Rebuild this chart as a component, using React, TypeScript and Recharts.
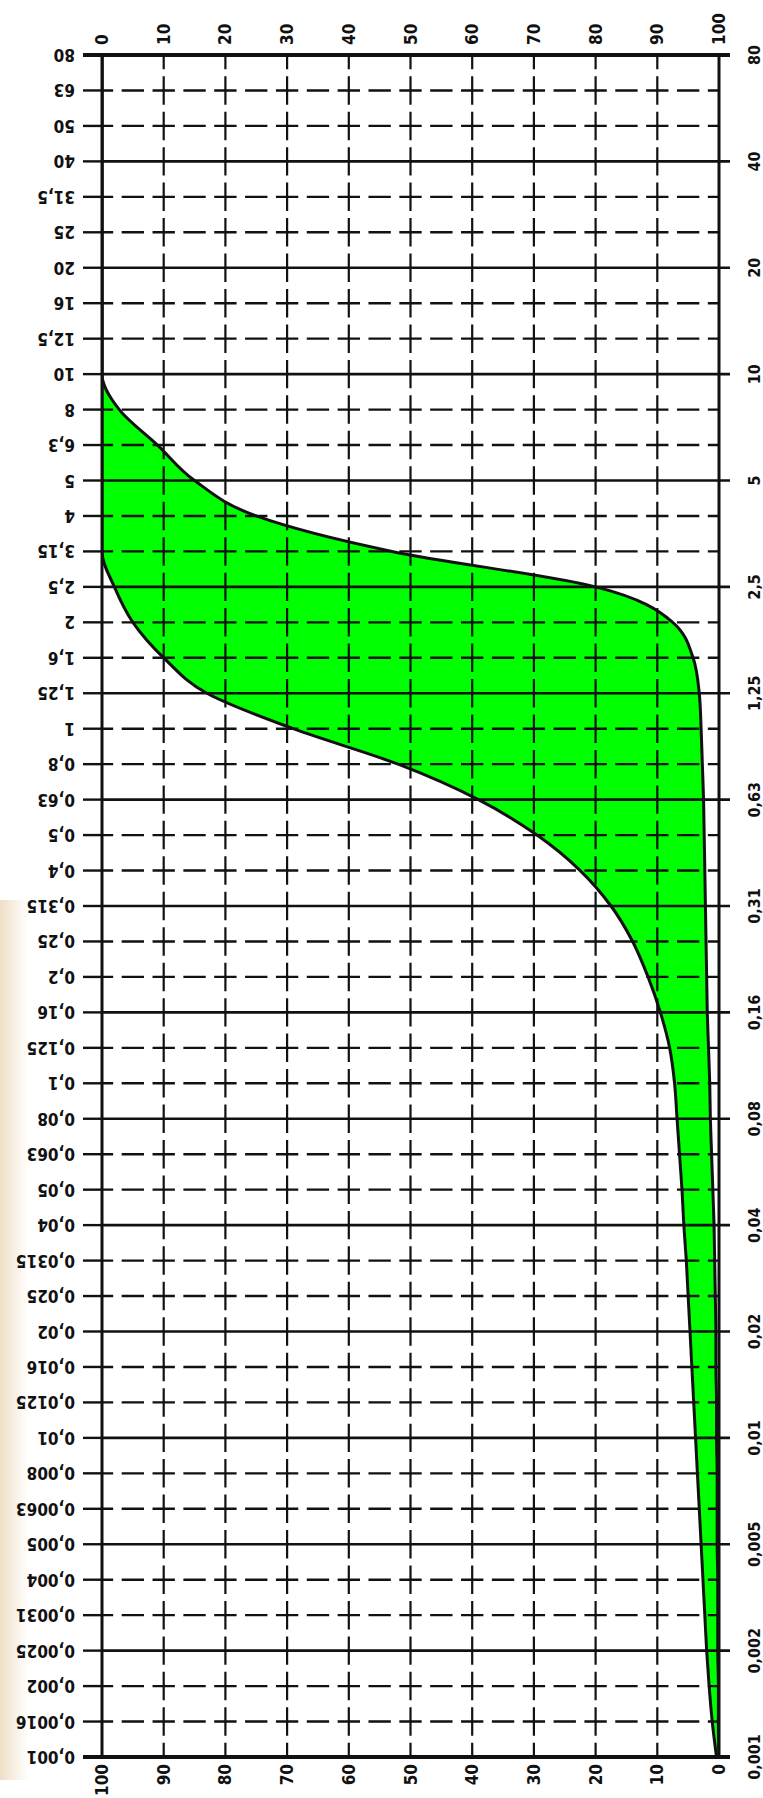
import React from 'react';
import { ComposedChart, Area, Line, XAxis, YAxis, ReferenceLine } from 'recharts';

// sieve sizes (mm), top to bottom, as printed on the left
const sizes = [
  '80', '63', '50', '40', '31,5', '25', '20', '16', '12,5', '10',
  '8', '6,3', '5', '4', '3,15', '2,5', '2', '1,6', '1,25', '1',
  '0,8', '0,63', '0,5', '0,4', '0,315', '0,25', '0,2', '0,16', '0,125', '0,1',
  '0,08', '0,063', '0,05', '0,04', '0,0315', '0,025', '0,02', '0,016', '0,0125', '0,01',
  '0,008', '0,0063', '0,005', '0,004', '0,0031', '0,0025', '0,002', '0,0016', '0,001',
];

// upper boundary curve (read on the top 0-100 scale)
const coarse = [
  0, 0, 0, 0, 0, 0, 0, 0, 0, 0,
  2.8, 9, 15, 25, 47, 80, 92.5, 95.8, 96.8, 97.1,
  97.3, 97.5, 97.6, 97.7, 97.8, 97.9, 98, 98.1, 98.3, 98.5,
  98.6, 98.8, 99, 99.2, 99.3, 99.4, 99.5, 99.5, 99.6, 99.6,
  99.7, 99.7, 99.7, 99.8, 99.8, 99.8, 99.9, 99.9, 100,
];

// lower boundary curve
const fine = [
  0, 0, 0, 0, 0, 0, 0, 0, 0, 0,
  0, 0, 0, 0, 0, 2, 5, 10, 17, 31,
  48, 61, 70.5, 77.5, 82.5, 86, 88.5, 90.5, 92, 92.8,
  93.2, 93.6, 94, 94.3, 94.7, 95, 95.3, 95.6, 95.9, 96.2,
  96.5, 96.8, 97.1, 97.4, 97.7, 98, 98.4, 98.9, 99.6,
];

// rows drawn with a solid line, and the label printed on the right
const majorSizes = ['80', '40', '20', '10', '5', '2,5', '1,25', '0,63', '0,315', '0,16', '0,08', '0,04', '0,02', '0,01', '0,005', '0,0025', '0,001'];
const rightLabels = ['80', '40', '20', '10', '5', '2,5', '1,25', '0,63', '0,31', '0,16', '0,08', '0,04', '0,02', '0,01', '0,005', '0,002', '0,001'];

const percentTicks = [0, 10, 20, 30, 40, 50, 60, 70, 80, 90, 100];
const innerVerticals = [10, 20, 30, 40, 50, 60, 70, 80, 90];

const data = sizes.map((size, i) => ({
  size,
  coarse: coarse[i],
  fine: fine[i],
  band: [fine[i], coarse[i]],
}));

const W = 763;
const H = 1798;
const TOP = 55;
const BOTTOM = 41;
const LEFT = 102;
const RIGHT = 44;
const plotW = W - LEFT - RIGHT;
const plotH = H - TOP - BOTTOM;
const rowGap = plotH / (sizes.length - 1);
const colHalf = plotW / 20;

const INK = '#111';
const FONT = "'DejaVu Sans Condensed', 'Liberation Sans Narrow', 'DejaVu Sans', sans-serif";

const textStyle = { fontFamily: FONT, fontWeight: 700, fontStretch: 'condensed' as const, fill: INK };

const LeftTick = (p: any) => (
  <text
    x={p.x}
    y={p.y}
    transform={`rotate(180 ${p.x} ${p.y})`}
    textAnchor="start"
    dominantBaseline="central"
    fontSize={17}
    style={textStyle}
  >
    {p.payload.value}
  </text>
);

const TopTick = (p: any) => (
  <text
    x={p.x}
    y={p.y}
    transform={`rotate(-90 ${p.x} ${p.y})`}
    textAnchor="start"
    dominantBaseline="central"
    fontSize={17}
    style={textStyle}
  >
    {p.payload.value}
  </text>
);

const BottomTick = (p: any) => (
  <text
    x={p.x}
    y={p.y}
    transform={`rotate(-90 ${p.x} ${p.y})`}
    textAnchor="end"
    dominantBaseline="central"
    fontSize={17}
    style={textStyle}
  >
    {p.payload.value}
  </text>
);

const RightLabel = ({ viewBox, text }: any) => {
  if (!viewBox) return null;
  const x = viewBox.x + viewBox.width + 24;
  const y = viewBox.y;
  return (
    <text
      x={x}
      y={y}
      transform={`rotate(-90 ${x} ${y})`}
      textAnchor="middle"
      dominantBaseline="central"
      fontSize={16}
      style={textStyle}
    >
      {text}
    </text>
  );
};

const dashedShape = (dash: number, gap: number, width: number) => (p: any) => (
  <line
    x1={p.x1}
    y1={p.y1}
    x2={p.x2}
    y2={p.y2}
    stroke={INK}
    strokeWidth={width}
    strokeDasharray={`${dash} ${gap}`}
    strokeDashoffset={dash / 2}
  />
);

const hDash = dashedShape(colHalf - 8.5, 8.5, 2.4);
const vDash = dashedShape(rowGap - 7, 7, 2.2);

export default function App() {
  const leftExt = -(19 / plotW) * 100;
  const rightExt = 100 + (11 / plotW) * 100;

  return (
    <div style={{ position: 'absolute', left: 0, top: 0, width: W, height: H, background: '#fff', overflow: 'hidden' }}>
      <div
        style={{
          position: 'absolute',
          left: 0,
          top: 900,
          width: 28,
          height: 880,
          background: 'linear-gradient(to right, rgba(225,195,150,0.55), rgba(255,255,255,0))',
        }}
      />
      <ComposedChart
        layout="vertical"
        width={W}
        height={H}
        data={data}
        margin={{ top: 0, right: RIGHT, bottom: 0, left: 0 }}
        style={{ position: 'absolute', left: 0, top: 0 }}
      >
        <XAxis
          xAxisId="t"
          type="number"
          orientation="top"
          domain={[0, 100]}
          ticks={percentTicks}
          interval={0}
          allowDataOverflow
          height={TOP}
          axisLine={false}
          tickLine={false}
          tickSize={0}
          tickMargin={10}
          tick={TopTick}
        />
        <XAxis
          xAxisId="b"
          type="number"
          orientation="bottom"
          reversed
          domain={[0, 100]}
          ticks={percentTicks}
          interval={0}
          allowDataOverflow
          height={BOTTOM}
          axisLine={false}
          tickLine={false}
          tickSize={0}
          tickMargin={7}
          tick={BottomTick}
        />
        <YAxis
          dataKey="size"
          type="category"
          scale="point"
          width={LEFT}
          interval={0}
          axisLine={false}
          tickSize={19}
          tickMargin={8}
          tickLine={{ stroke: INK, strokeWidth: 2.4 }}
          tick={LeftTick}
        />

        <Area
          xAxisId="t"
          dataKey="band"
          type="monotone"
          fill="#00ff00"
          fillOpacity={1}
          stroke="none"
          isAnimationActive={false}
        />

        {sizes
          .filter((s) => !majorSizes.includes(s))
          .map((s) => (
            <ReferenceLine key={`d-${s}`} xAxisId="t" y={s} shape={hDash} />
          ))}

        {innerVerticals.map((v) => (
          <ReferenceLine key={`v-${v}`} xAxisId="t" x={v} shape={vDash} />
        ))}

        {majorSizes.map((s, i) => {
          const edge = i === 0 || i === majorSizes.length - 1;
          return (
            <ReferenceLine
              key={`m-${s}`}
              xAxisId="t"
              segment={[
                { x: edge ? leftExt : 0, y: s },
                { x: rightExt, y: s },
              ]}
              ifOverflow="visible"
              stroke={INK}
              strokeWidth={edge ? 4 : 2.6}
              label={<RightLabel text={rightLabels[i]} />}
            />
          );
        })}

        <ReferenceLine xAxisId="t" x={0} stroke={INK} strokeWidth={3} />
        <ReferenceLine xAxisId="t" x={100} stroke={INK} strokeWidth={3} />

        <Line
          xAxisId="t"
          dataKey="coarse"
          type="monotone"
          stroke={INK}
          strokeWidth={3}
          dot={false}
          isAnimationActive={false}
        />
        <Line
          xAxisId="t"
          dataKey="fine"
          type="monotone"
          stroke={INK}
          strokeWidth={3}
          dot={false}
          isAnimationActive={false}
        />
      </ComposedChart>
    </div>
  );
}
